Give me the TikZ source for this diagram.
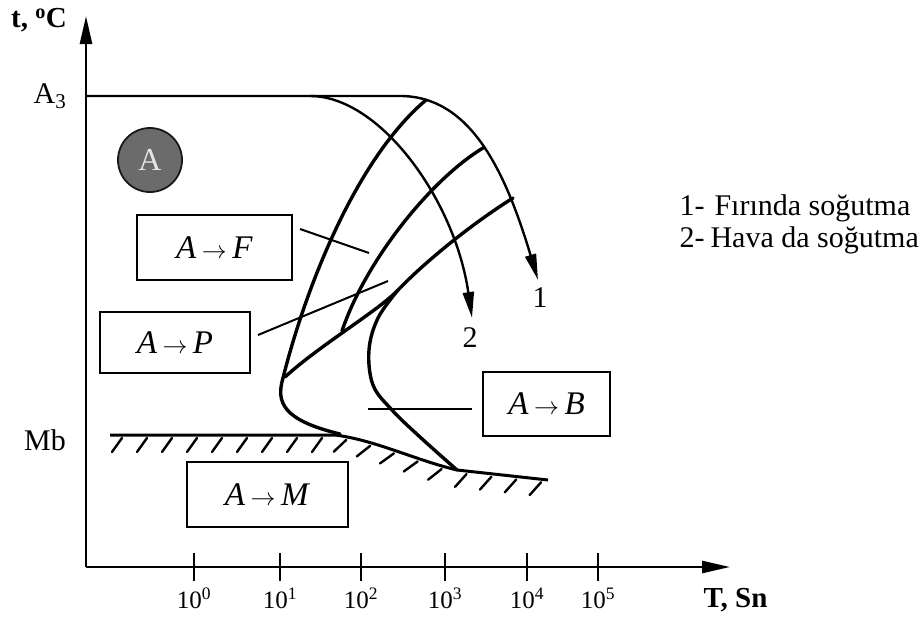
\documentclass[tikz,border=0pt]{standalone}
\usepackage{fontspec}
\setmainfont{Liberation Serif}
\usetikzlibrary{arrows.meta,decorations.markings}
\begin{document}
\begin{tikzpicture}[x=1pt,y=-1pt,
  axis/.style={line width=2.6pt},
  curve/.style={line width=3.4pt, line join=round, line cap=round},
  cool/.style={line width=2.4pt, -{Triangle[length=26pt,width=11pt]}},
  lbox/.style={draw, line width=2pt, inner sep=0pt, font=\fontsize{33}{34}\selectfont},
  lead/.style={line width=2pt},
  txt/.style={font=\fontsize{30}{32}\selectfont},
  btxt/.style={font=\fontsize{29}{30}\selectfont\bfseries},
  tickmark/.style={line width=2.4pt},
  ticklab/.style={font=\fontsize{25}{26}\selectfont},
  hatch/.style={line width=3pt, postaction={decorate},
    decoration={markings, mark=between positions 12pt and -4pt step 25pt with {\draw[line width=2.4pt, line cap=round] (0,3) -- (-10,17);}}}
]
\useasboundingbox (0,0) rectangle (920,616);

% axes
\coordinate (O) at (86,567);
\coordinate (Ytip) at (86,16);
\coordinate (Xtip) at (730,567);
\draw[axis,-{Triangle[length=28pt,width=12pt]}] (O) -- (Ytip);
\draw[axis,-{Triangle[length=28pt,width=12pt]}] (O) -- (Xtip);
\foreach \x/\e in {194/0,280/1,361/2,445/3,527/4,598/5}{
  \draw[tickmark] (\x,553) -- (\x,581);
  \node[ticklab] (t\e) at (\x,598) {10\textsuperscript{\e}};
}
\node[btxt] (ylab) at (39,20) {t, \textsuperscript{o}C};
\node[btxt, anchor=west] (xlab) at (700,600) {T, Sn};
\node[txt] (a3) at (50,96) {A\textsubscript{3}};
\node[txt] (mb) at (45,440) {Mb};

% austenite circle
\node[circle, fill=black!58, draw=black!90, line width=1.8pt, minimum size=64pt, inner sep=0pt,
  text=white!80!gray, font=\fontsize{32}{32}\selectfont] (circA) at (150,160) {A};

% A3 line + cooling curve 1, cooling curve 2
\draw[cool] (86,96) -- (400,96) .. controls (470,96) and (505,170) .. (538,280);
\draw[cool] (310,96) .. controls (380,96) and (455,200) .. (472,318);
\node[txt] (n1) at (540,298) {1};
\node[txt] (n2) at (470,338) {2};

% start C-curve
\draw[curve] (426,100) .. controls (355,160) and (305,290) .. (283,378)
  .. controls (276,402) and (282,420) .. (340,434);
% middle curve
\draw[curve] (483,148) .. controls (430,180) and (365,262) .. (342,331);
% end curve
\draw[curve] (513,198) .. controls (470,225) and (425,262) .. (398,290)
  .. controls (378,311) and (320,345) .. (285,377);
% bainite curve
\draw[curve] plot[smooth, tension=0.6] coordinates {(398,290) (378,318) (369,350) (373,385) (392,410) (420,437) (457,470)};

% Ms line with hatching
\draw[hatch] (110,435) -- (335,435) .. controls (375,440) and (415,460) .. (457,470) -- (548,480);

% boxes
\node[lbox, minimum width=155pt, minimum height=65pt] (bF) at (214.5,247.5) {\textit{A}\,$\rightarrow$\,\textit{F}};
\node[lbox, minimum width=150pt, minimum height=61pt] (bP) at (175,342.5) {\textit{A}\,$\rightarrow$\,\textit{P}};
\node[lbox, minimum width=127pt, minimum height=64pt] (bB) at (546.5,404) {\textit{A}\,$\rightarrow$\,\textit{B}};
\node[lbox, minimum width=161pt, minimum height=65pt] (bM) at (267.5,494.5) {\textit{A}\,$\rightarrow$\,\textit{M}};

% leader lines
\coordinate (fA) at (300,229); \coordinate (fB) at (369,253);
\coordinate (pA) at (258,335); \coordinate (pB) at (388,281);
\coordinate (qA) at (368,409); \coordinate (qB) at (472,409);
\draw[lead] (fA) -- (fB);
\draw[lead] (pA) -- (pB);
\draw[lead] (qA) -- (qB);

% legend
\node[txt, anchor=west] (l1) at (676,208) {1-\hspace{10pt}Fırında soğutma};
\node[txt, anchor=west] (l2) at (676,240) {2-\hspace{6pt}Hava da soğutma};
\end{tikzpicture}
\end{document}
